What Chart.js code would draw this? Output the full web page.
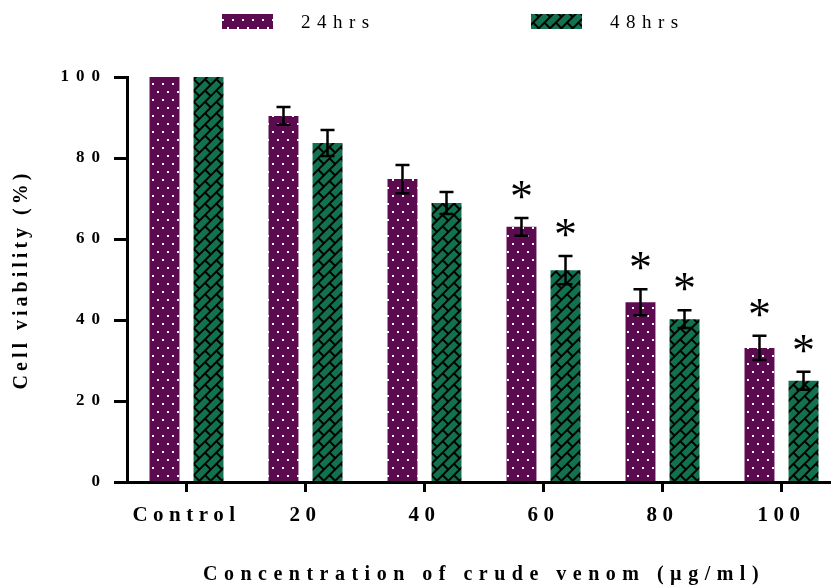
<!DOCTYPE html>
<html>
<head>
<meta charset="utf-8">
<script src="https://cdn.jsdelivr.net/npm/chart.js@4.4.1/dist/chart.umd.min.js"></script>
<style>
  html, body { margin: 0; padding: 0; background: #fff; overflow: hidden; }
  /* plot runs past the right edge, like the cropped original */
  #wrap { width: 841px; height: 585px; }
</style>
</head>
<body>
<div id="wrap"><canvas id="chart"></canvas></div>
<script>
const LABELS = ['Control', '20', '40', '60', '80', '100'];
const VIABILITY_24 = [100, 90.4, 74.8, 63.0, 44.4, 33.1];
const VIABILITY_48 = [100, 83.7, 68.9, 52.3, 40.2, 25.0];
const ERR_24 = [0, 2.2, 3.5, 2.2, 3.2, 3.0];
const ERR_48 = [0, 3.2, 2.7, 3.5, 2.2, 2.2];
const SIGNIF_24 = [false, false, false, true, true, true];
const SIGNIF_48 = [false, false, false, true, true, true];
const Y_TICKS = [0, 20, 40, 60, 80, 100];

const PURPLE = '#5d0b50';
const GREEN = '#12714f';

// extra letter spacing (px) per text element
const SPACING = { xTicks: 5.5, xTitle: 6.5, yTicks: 7, yTitle: 4 };

const canvas = document.getElementById('chart');
const ctx = canvas.getContext('2d');

function dotPattern(bg) {
    const c = document.createElement('canvas');
    c.width = 10; c.height = 16;
    const g = c.getContext('2d');
    g.fillStyle = bg;
    g.fillRect(0, 0, 10, 16);
    g.fillStyle = '#fff';
    g.fillRect(2, 3, 2, 2);
    g.fillRect(7, 11, 2, 2);
    return ctx.createPattern(c, 'repeat');
}

// running-bond bricks, tilted so they run up to the right
function brickPattern(bg) {
    const L = 16, H = 8, m = 2;
    const c = document.createElement('canvas');
    c.width = L; c.height = 2 * H;
    const g = c.getContext('2d');
    g.fillStyle = bg;
    g.fillRect(0, 0, L, 2 * H);
    g.fillStyle = '#000';
    g.fillRect(0, 0, L, m);
    g.fillRect(0, H, L, m);
    g.fillRect(0, 0, m, H);
    g.fillRect(L / 2, H, m, H);
    const p = ctx.createPattern(c, 'repeat');
    p.setTransform(new DOMMatrix().rotate(-45));
    return p;
}

function withSpacing(obj, name, px) {
    const orig = obj[name];
    if (orig.spaced) return;
    const wrapped = function (...args) {
        this.ctx.save();
        this.ctx.letterSpacing = px + 'px';
        const out = orig.apply(this, args);
        this.ctx.restore();
        return out;
    };
    wrapped.spaced = true;
    obj[name] = wrapped;
}

const spacedText = {
    id: 'spacedText',
    beforeLayout(chart) {
        const { x, y } = chart.scales;
        withSpacing(x, 'update', SPACING.xTicks);
        withSpacing(x, 'drawLabels', SPACING.xTicks);
        withSpacing(x, 'drawTitle', SPACING.xTitle);
        withSpacing(y, 'update', SPACING.yTicks);
        withSpacing(y, 'drawLabels', SPACING.yTicks);
        withSpacing(y, 'drawTitle', SPACING.yTitle);
    }
};

// error bars + significance stars
const errorBars = {
    id: 'errorBars',
    afterDatasetsDraw(chart, args, opts) {
        const { ctx, scales: { y } } = chart;
        ctx.save();
        ctx.strokeStyle = '#000';
        ctx.fillStyle = '#000';
        ctx.lineWidth = opts.lineWidth;
        ctx.font = opts.starFont;
        ctx.textAlign = 'center';
        ctx.textBaseline = 'alphabetic';
        chart.data.datasets.forEach((ds, di) => {
            chart.getDatasetMeta(di).data.forEach((bar, i) => {
                const v = ds.data[i], e = ds.errors[i];
                const top = y.getPixelForValue(v + e);
                if (e) {
                    const bot = y.getPixelForValue(v - e);
                    const w = opts.capWidth / 2;
                    ctx.beginPath();
                    ctx.moveTo(bar.x, top); ctx.lineTo(bar.x, bot);
                    ctx.moveTo(bar.x - w, top); ctx.lineTo(bar.x + w, top);
                    ctx.moveTo(bar.x - w, bot); ctx.lineTo(bar.x + w, bot);
                    ctx.stroke();
                }
                if (ds.signif[i]) ctx.fillText('*', bar.x, top - opts.starGap);
            });
        });
        ctx.restore();
    }
};

const patternLegend = {
    id: 'patternLegend',
    afterDraw(chart, args, opts) {
        const { ctx } = chart;
        ctx.save();
        ctx.font = opts.font;
        ctx.letterSpacing = opts.spacing + 'px';
        ctx.textBaseline = 'middle';
        chart.data.datasets.forEach((ds, i) => {
            const x = opts.left[i];
            ctx.fillStyle = ds.backgroundColor;
            ctx.fillRect(x, opts.top, opts.boxWidth, opts.boxHeight);
            ctx.fillStyle = '#000';
            ctx.fillText(ds.label, x + opts.boxWidth + opts.gap, opts.top + opts.boxHeight / 2 + 2);
        });
        ctx.restore();
    }
};

Chart.defaults.font.family = '"Liberation Serif", "Times New Roman", serif';
Chart.defaults.color = '#000';

new Chart(ctx, {
    type: 'bar',
    data: {
        labels: LABELS,
        datasets: [{
            label: '24hrs',
            data: VIABILITY_24,
            errors: ERR_24,
            signif: SIGNIF_24,
            backgroundColor: dotPattern(PURPLE),
            borderWidth: 0,
            categoryPercentage: 0.74,
            barPercentage: 0.68,
        }, {
            label: '48hrs',
            data: VIABILITY_48,
            errors: ERR_48,
            signif: SIGNIF_48,
            backgroundColor: brickPattern(GREEN),
            borderWidth: 0,
            categoryPercentage: 0.74,
            barPercentage: 0.68,
        }],
    },
    options: {
        responsive: true,
        maintainAspectRatio: false,
        animation: false,
        devicePixelRatio: 1,
        layout: { padding: { top: 77, left: 0, right: 0, bottom: 0 } },
        plugins: {
            legend: { display: false },
            tooltip: { enabled: false },
            patternLegend: {
                left: [222, 531], top: 14, boxWidth: 51, boxHeight: 15, gap: 28,
                font: '19px "Liberation Serif"', spacing: 6.5,
            },
            errorBars: { lineWidth: 2.5, capWidth: 14, starGap: 6, starFont: '46px "Liberation Serif"' },
        },
        scales: {
            x: {
                offset: true,
                grid: { drawOnChartArea: false, tickLength: 10, tickWidth: 3, tickColor: '#000', offset: false },
                border: { width: 3, color: '#000', z: 1 },
                ticks: { font: { size: 21, weight: 'bold' }, padding: 11, maxRotation: 0, autoSkip: false },
                title: {
                    display: true,
                    text: 'Concentration of crude venom (µg/ml)',
                    font: { size: 20, weight: 'bold', lineHeight: 1 },
                    padding: { top: 0, bottom: 0 },
                },
                afterFit: s => { s.height = 103; },
            },
            y: {
                min: 0,
                max: 100,
                afterBuildTicks: s => { s.ticks = Y_TICKS.map(v => ({ value: v })); },
                grid: { drawOnChartArea: false, tickLength: 13, tickWidth: 3, tickColor: '#000' },
                border: { width: 3, color: '#000', z: 1 },
                ticks: { font: { size: 17, weight: 'bold' }, padding: 7 },
                title: {
                    display: true,
                    text: 'Cell viability (%)',
                    font: { size: 20, weight: 'bold', lineHeight: 1 },
                    padding: { top: 12, bottom: 0 },
                },
                afterFit: s => { s.width = 127; },
            },
        },
    },
    plugins: [spacedText, errorBars, patternLegend],
});
</script>
</body>
</html>
